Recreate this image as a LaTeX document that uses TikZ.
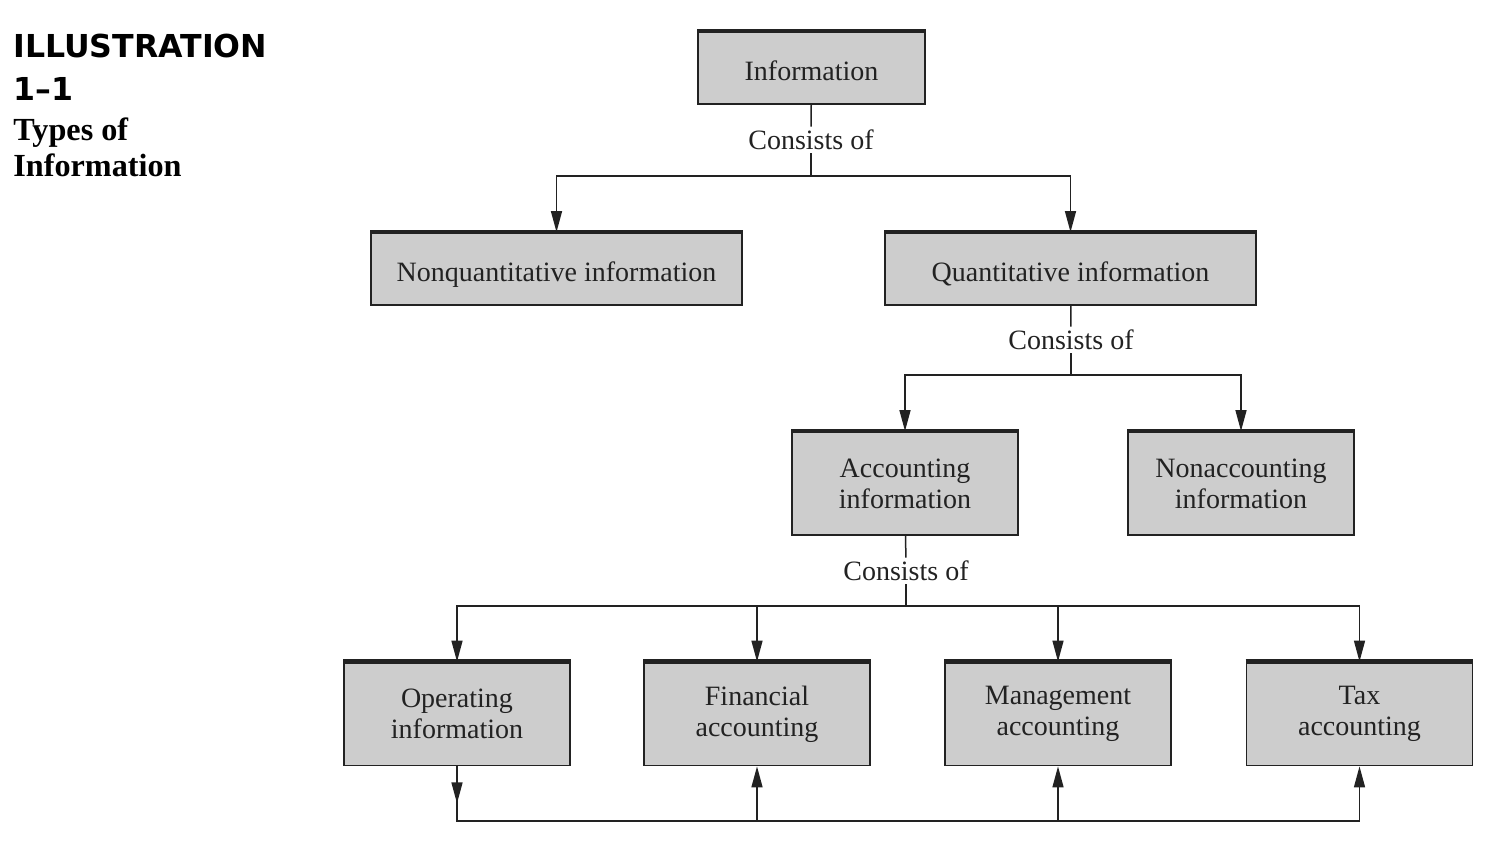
\documentclass[tikz,border=0pt]{standalone}
\usepackage{fontspec}
\setmainfont{Liberation Serif}
\newfontfamily\heavyfont{DejaVu Sans}
\usepackage{tikz}
\usetikzlibrary{positioning,arrows.meta}
\definecolor{boxgray}{HTML}{CDCDCD}
\definecolor{ink}{HTML}{222222}
\tikzset{
    box/.style={draw=ink, fill=boxgray, line width=0.9pt, align=center,
      text=ink, font=\fontsize{14}{15.5}\selectfont, inner sep=0pt},
    small/.style={box, minimum width=113.5pt, minimum height=36pt,
      text height=14.3pt, text depth=2pt},
    wide/.style={box, minimum width=185.5pt, minimum height=36pt,
      text height=14.3pt, text depth=2pt},
    tall/.style={box, minimum width=113pt, minimum height=51.5pt},
    topedge/.style={draw=ink, line width=2.2pt},
    consists/.style={text=ink, font=\fontsize{14}{16}\selectfont, inner sep=1.5pt},
    link/.style={draw=ink, line width=0.75pt},
    arrow/.style={link, -{Stealth[length=10.5pt, width=5.5pt, inset=0pt]}}
}

\begin{document}
\begin{tikzpicture}[x=0.5pt, y=0.5pt]
    \useasboundingbox (0,0) rectangle (1494,-854);
    % heading
    \node[anchor=base west, inner sep=0pt, font=\heavyfont\bfseries\fontsize{15.8}{20}\selectfont] (ill) at (13,-58) {ILLUSTRATION};
    \node[anchor=base west, inner sep=0pt, font=\heavyfont\bfseries\fontsize{15.8}{20}\selectfont] (num) at (13,-101) {1–1};
    \node[anchor=base west, inner sep=0pt, font=\bfseries\fontsize{16.1}{18}\selectfont] (types) at (13,-141) {Types of};
    \node[anchor=base west, inner sep=0pt, font=\bfseries\fontsize{16.1}{18}\selectfont] (typesb) at (13,-177) {Information};

    % boxes
    \node[small] (info) at (811.5,-68) {Information};
    \node[wide] (nonq) at (556.5,-269) {Nonquantitative information};
    \node[wide] (quant) at (1070.5,-269) {Quantitative information};
    \node[tall] (acc) at (905,-483.5) {Accounting\\information};
    \node[tall] (nonacc) at (1241,-483.5) {Nonaccounting\\information};
    \node[tall] (oper) at (457,-714) {Operating\\information};
    \node[tall] (fin) at (757,-714) {Financial\\accounting};
    \node[tall] (mgmt) at (1058,-714) {Management\\accounting};
    \node[tall] (tax) at (1359.5,-714) {Tax\\accounting};
    \foreach \n in {info,nonq,quant,acc,nonacc,oper,fin,mgmt,tax}
      \draw[topedge] (\n.north west) -- (\n.north east);

    % consists of
    \node[consists] (cinfo) at (811,-140) {Consists of};
    \node[consists] (cquant) at (1071,-340) {Consists of};
    \node[consists] (cacc) at (906,-571) {Consists of};
    \coordinate (jinfo) at (811,-176);
    \coordinate (jquant) at (1071,-375);
    \coordinate (jacc) at (906,-606);
    \coordinate (bus) at (906,-821);

    \draw[link] (info) -- (cinfo);
    \draw[link] (cinfo) -- (jinfo);
    \draw[arrow] (jinfo) -| (nonq);
    \draw[arrow] (jinfo) -| (quant);

    \draw[link] (quant) -- (cquant);
    \draw[link] (cquant) -- (jquant);
    \draw[arrow] (jquant) -| (acc);
    \draw[arrow] (jquant) -| (nonacc);

    \draw[link] (acc) -- (cacc);
    \draw[link] (cacc) -- (jacc);
    \foreach \n in {oper,fin,mgmt,tax}
      \draw[arrow] (jacc) -| (\n);

    % bottom loop
    \draw[link] (oper.south) -- (oper.south |- bus) -- (tax.south |- bus);
    \draw[arrow] (oper.south) -- ++(0,-37);
    \foreach \n in {fin,mgmt,tax}
      \draw[arrow] (\n.south |- bus) -- (\n.south);
\end{tikzpicture}
\end{document}
